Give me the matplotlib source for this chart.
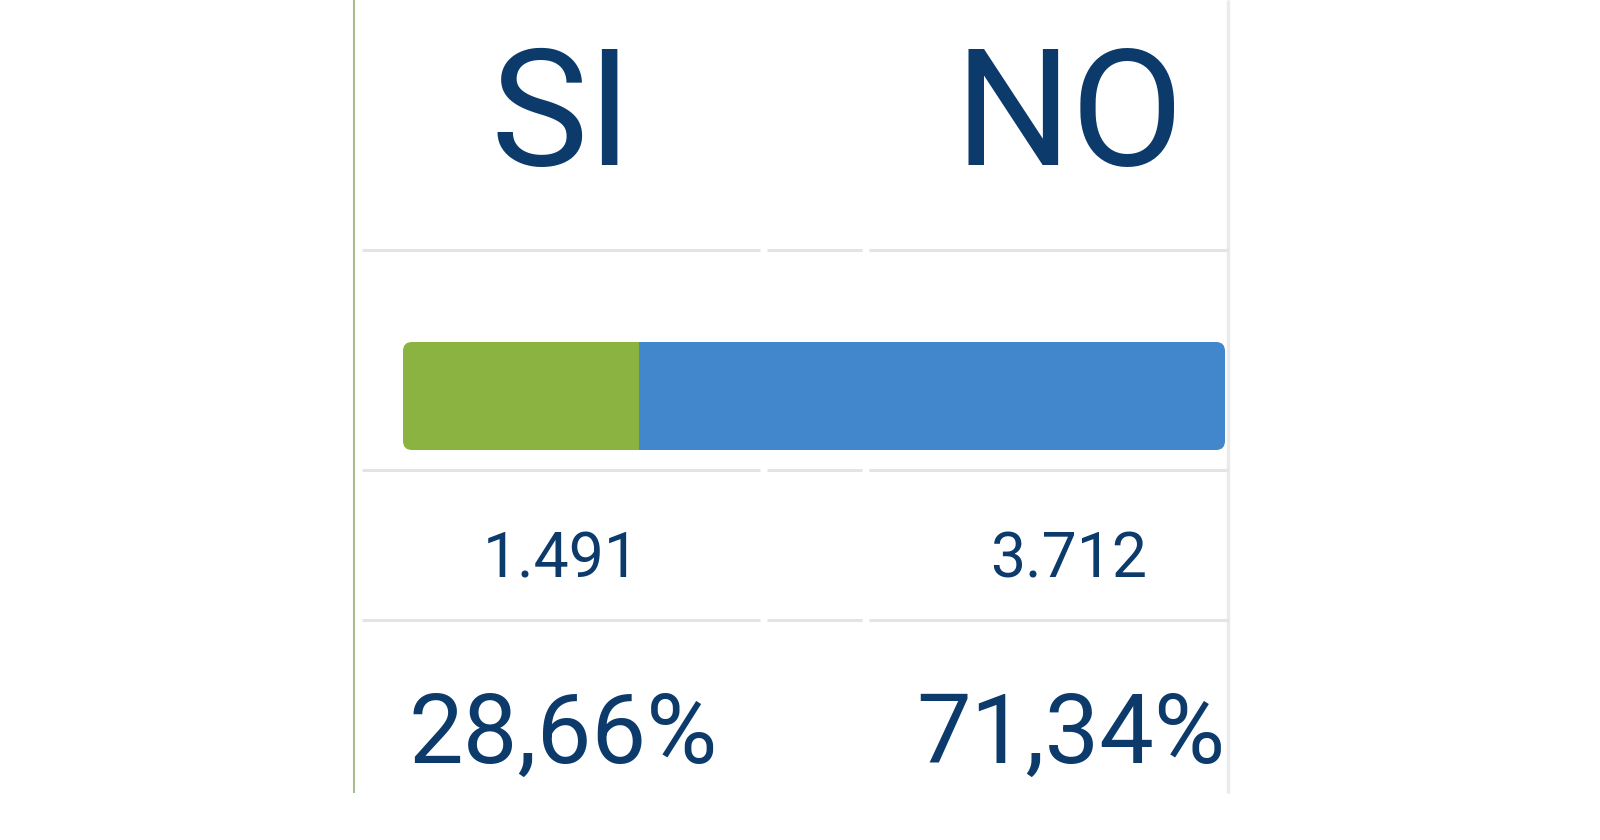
import matplotlib.pyplot as plt
from matplotlib.patches import FancyBboxPatch

labels = ['SI', 'NO']
votes = [1491, 3712]
vote_text = ['1.491', '3.712']
pct_text = ['28,66%', '71,34%']
colors = ['#8AB341', '#4287CC']
navy = '#0B3A6B'

plt.rcParams['font.family'] = ['Roboto', 'DejaVu Sans']

fig = plt.figure(figsize=(16, 8.4), dpi=100)
fig.patch.set_facecolor('white')

# layout axes in pixel coordinates
ax = fig.add_axes([0, 0, 1, 1])
ax.set_xlim(0, 1600)
ax.set_ylim(840, 0)
ax.axis('off')

# frame lines
ax.vlines(354, 0, 793, color='#A9BE8C', lw=1.5)
ax.vlines(1228, 0, 793, color='#EBEBEB', lw=2.5)
for y in [250, 470, 620]:
    for x0, x1 in [(362, 760), (767, 862), (869, 1228)]:
        ax.hlines(y, x0, x1, color='#E4E4E4', lw=2.2)

col_x = [561, 1069]
for i, lab in enumerate(labels):
    ax.text(col_x[i], 165, lab, ha='center', va='baseline', fontsize=118, color=navy)
    ax.text(col_x[i], 577, vote_text[i], ha='center', va='baseline', fontsize=45, color=navy)
    ax.text(col_x[i] + 2, 763, pct_text[i], ha='center', va='baseline', fontsize=70, color=navy)

# stacked bar
left, right, top, bottom = 403, 1225, 342, 450
bax = fig.add_axes([left / 1600, 1 - bottom / 840, (right - left) / 1600, (bottom - top) / 840])
total = sum(votes)
starts = [0, votes[0]]
bars = bax.barh([0, 0], votes, left=starts, height=1, color=colors, linewidth=0)
bax.set_xlim(0, total)
bax.set_ylim(-0.5, 0.5)
bax.axis('off')

w_px, h_px = right - left, bottom - top
r = 9 / w_px
clip = FancyBboxPatch((0, 0), 1, 1, boxstyle='round,pad=0,rounding_size=%f' % r,
                      mutation_aspect=w_px / h_px, transform=bax.transAxes,
                      facecolor='none', edgecolor='none')
bax.add_patch(clip)
for b in bars:
    b.set_clip_path(clip)

fig.savefig('out.png', dpi=100, facecolor='white')
